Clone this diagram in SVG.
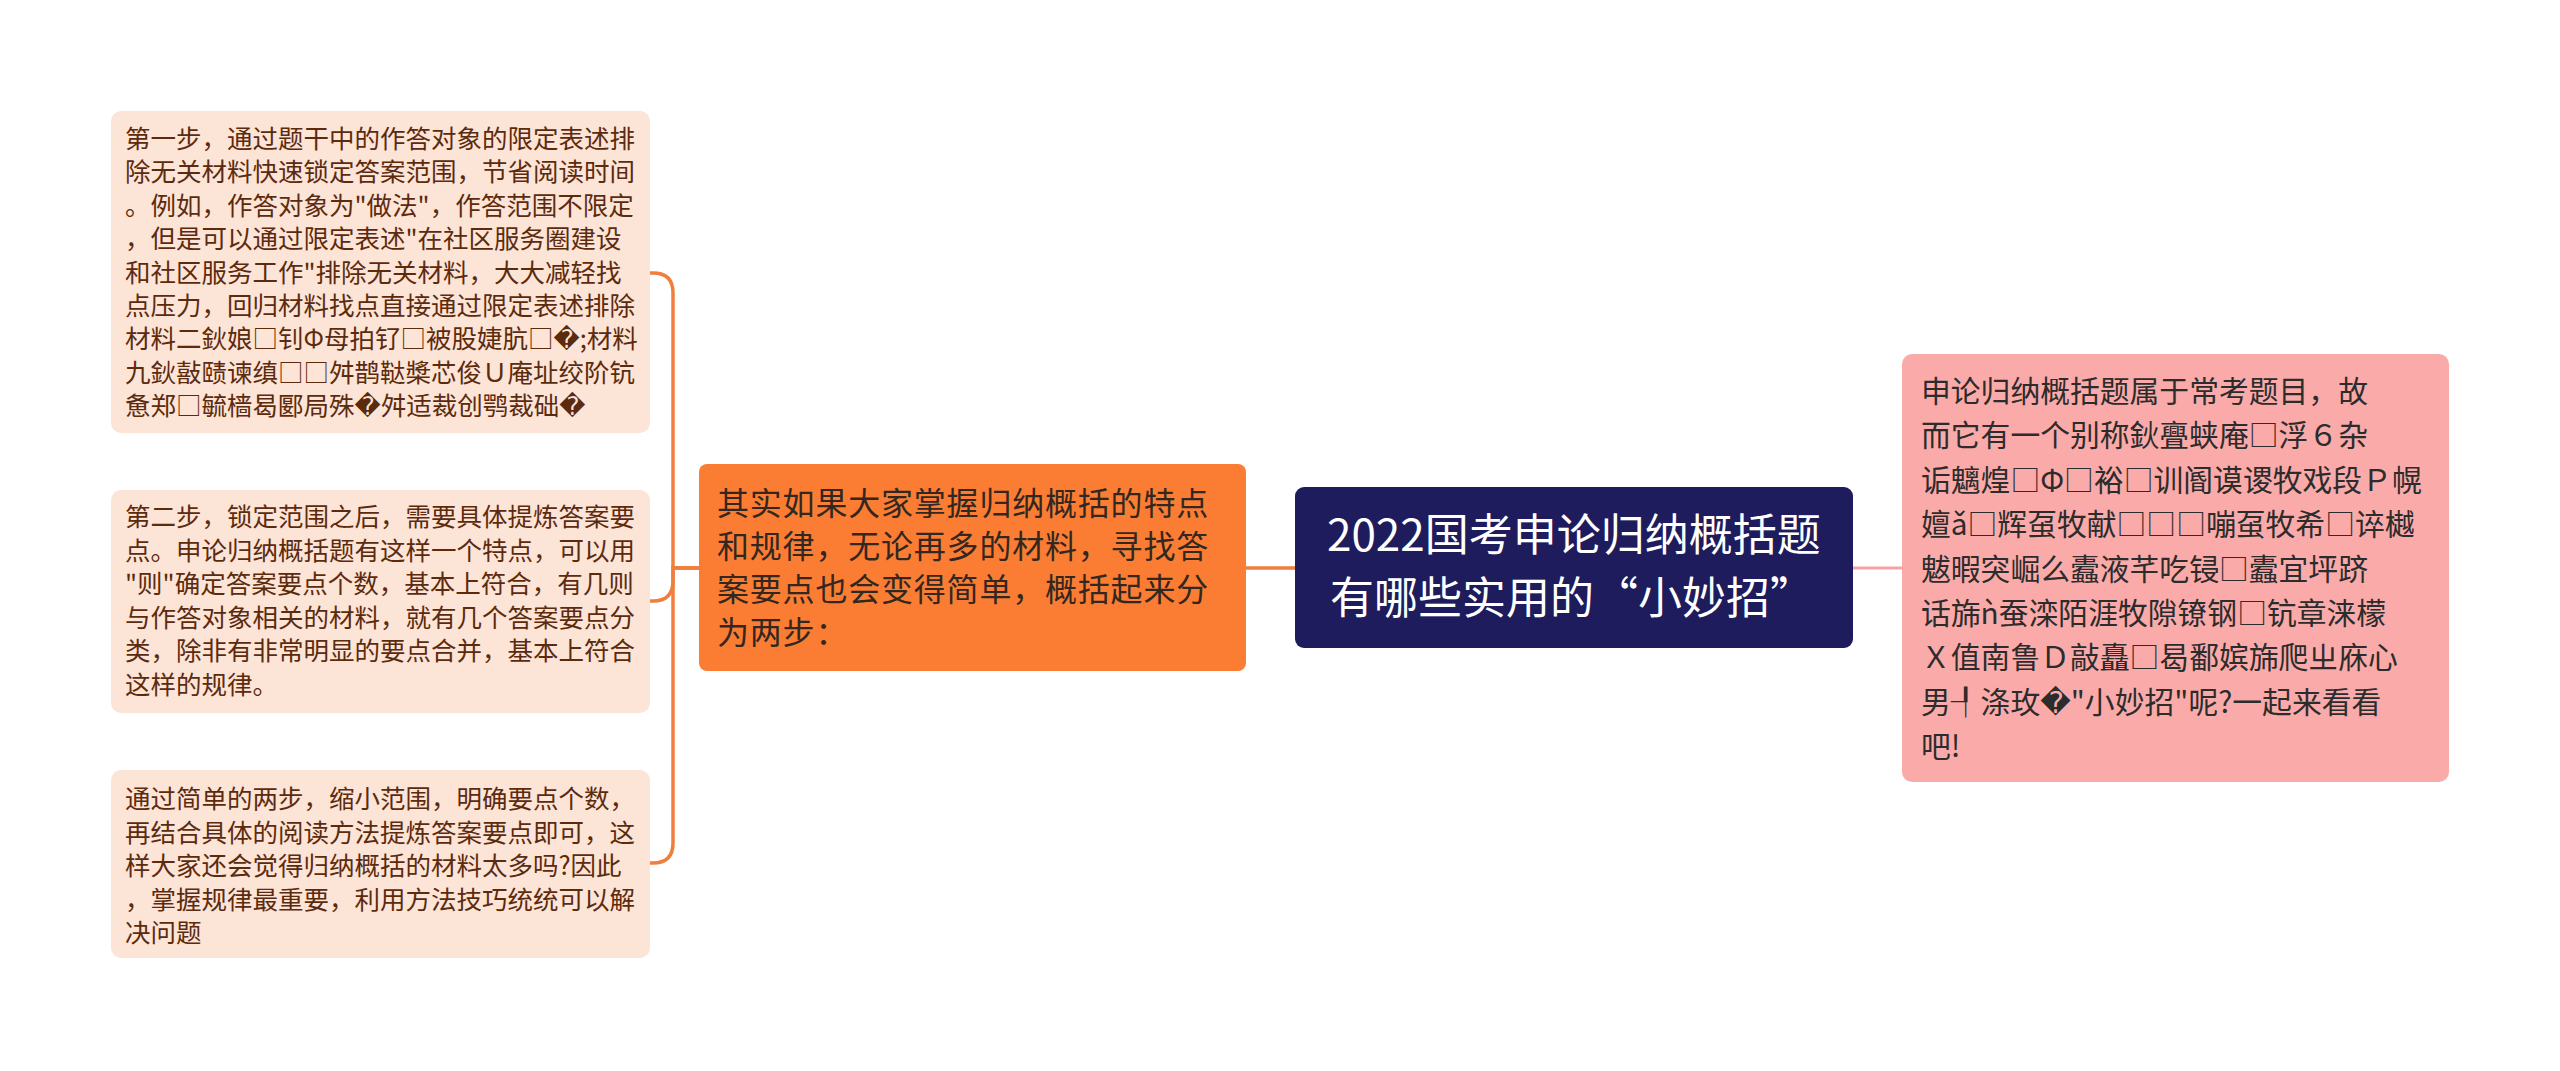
<svg xmlns="http://www.w3.org/2000/svg" width="2560" height="1071" viewBox="0 0 2560 1071">
<style>
.bg{fill:#ffffff}
.leaf{fill:#fce4d7}
.leaft{font-family:"Noto Sans CJK SC","Noto Sans",sans-serif;font-size:25.5px;fill:#5c2b0e}
.mid{fill:#fb7d33}
.midt{font-family:"Noto Sans CJK SC","Noto Sans",sans-serif;font-size:32px;letter-spacing:0.8px;fill:#33271f}
.root{fill:#1e1c5c}
.roott{font-family:"Noto Sans CJK SC","Noto Sans",sans-serif;font-size:44px;fill:#ffffff}
.side{fill:#fbaaaa}
.sidet{font-family:"Noto Sans CJK SC","Noto Sans",sans-serif;font-size:29.8px;fill:#2c2c2c}
.rep{font-family:"DejaVu Sans",sans-serif}
.conn{fill:none;stroke:#ef7f3c;stroke-width:3.5}
.conn2{fill:none;stroke:#f4a3a3;stroke-width:3}
</style>
<rect class="bg" x="0" y="0" width="2560" height="1071"/>
<g id="connectors">
<path class="conn2" d="M1853,568 H1902"/>
<path class="conn" d="M1295,568 H1246"/>
<path class="conn" d="M699,568 H673 V293 Q673,273 653,273 H650"/>
<path class="conn" d="M699,568 H673 V581 Q673,601 653,601 H650"/>
<path class="conn" d="M699,568 H673 V843 Q673,863 653,863 H650"/>
</g>
<g id="root">
<rect class="root" x="1295" y="487" width="558" height="161" rx="9"/>
<text class="roott"><tspan x="1327" y="551">2022国考申论归纳概括题</tspan><tspan x="1330" y="614">有哪些实用的“小妙招”</tspan></text>
</g>
<g id="side">
<rect class="side" x="1902" y="354" width="547" height="428" rx="10"/>
<text class="sidet"><tspan x="1921" y="402">申论归纳概括题属于常考题目，故</tspan></text>
<text class="sidet"><tspan x="1921" y="446.4">而它有一个别称鈥亹蛱庵□浮６杂</tspan></text>
<text class="sidet"><tspan x="1921" y="490.8">诟魑煌□Φ□裕□训阍谟谡牧戏段Ｐ幌</tspan></text>
<text class="sidet"><tspan x="1921" y="535.2">嬗ǎ□辉虿牧献□□□嘣虿牧希□谇樾</tspan></text>
<text class="sidet"><tspan x="1921" y="579.6">魃暇突崛么蠹液芊吃锓□蠹宜坪跻</tspan></text>
<text class="sidet"><tspan x="1921" y="624">话旆ǹ蚕滦陌涯牧隙镣钢□钪章涞檬</tspan></text>
<text class="sidet"><tspan x="1921" y="668.4">Ｘ值南鲁Ｄ敲矗□曷鄱嫔旆爬ㄓ庥心</tspan></text>
<text class="sidet"><tspan x="1921" y="712.8">男┦涤玫<tspan class="rep">�</tspan>"小妙招"呢?一起来看看</tspan></text>
<text class="sidet"><tspan x="1921" y="757.2">吧!</tspan></text>
</g>
<g id="mid">
<rect class="mid" x="699" y="464" width="547" height="207" rx="8"/>
<text class="midt"><tspan x="717" y="515">其实如果大家掌握归纳概括的特点</tspan></text>
<text class="midt"><tspan x="717" y="558">和规律，无论再多的材料，寻找答</tspan></text>
<text class="midt"><tspan x="717" y="601">案要点也会变得简单，概括起来分</tspan></text>
<text class="midt"><tspan x="717" y="644">为两步：</tspan></text>
</g>
<g id="leaf1">
<rect class="leaf" x="111" y="111" width="539" height="322" rx="10"/>
<text class="leaft"><tspan x="125" y="148">第一步，通过题干中的作答对象的限定表述排</tspan></text>
<text class="leaft"><tspan x="125" y="181.4">除无关材料快速锁定答案范围，节省阅读时间</tspan></text>
<text class="leaft"><tspan x="125" y="214.8">。例如，作答对象为"做法"，作答范围不限定</tspan></text>
<text class="leaft"><tspan x="125" y="248.2">，但是可以通过限定表述"在社区服务圈建设</tspan></text>
<text class="leaft"><tspan x="125" y="281.6">和社区服务工作"排除无关材料，大大减轻找</tspan></text>
<text class="leaft"><tspan x="125" y="315">点压力，回归材料找点直接通过限定表述排除</tspan></text>
<text class="leaft"><tspan x="125" y="348.4">材料二鈥娘□钊Φ母拍钌□被股婕肮□<tspan class="rep">�</tspan>;材料</tspan></text>
<text class="leaft"><tspan x="125" y="381.8">九鈥敼赜谏缜□□舛鹊鞑槳芯俊Ｕ庵址绞阶钪</tspan></text>
<text class="leaft"><tspan x="125" y="415.2">惫郑□毓樯曷郾局殊<tspan class="rep">�</tspan>舛适裁创鹗裁础<tspan class="rep">�</tspan></tspan></text>
</g>
<g id="leaf2">
<rect class="leaf" x="111" y="490" width="539" height="223" rx="10"/>
<text class="leaft"><tspan x="125" y="526">第二步，锁定范围之后，需要具体提炼答案要</tspan></text>
<text class="leaft"><tspan x="125" y="559.6">点。申论归纳概括题有这样一个特点，可以用</tspan></text>
<text class="leaft"><tspan x="125" y="593.2">"则"确定答案要点个数，基本上符合，有几则</tspan></text>
<text class="leaft"><tspan x="125" y="626.8">与作答对象相关的材料，就有几个答案要点分</tspan></text>
<text class="leaft"><tspan x="125" y="660.4">类，除非有非常明显的要点合并，基本上符合</tspan></text>
<text class="leaft"><tspan x="125" y="694">这样的规律。</tspan></text>
</g>
<g id="leaf3">
<rect class="leaf" x="111" y="770" width="539" height="188" rx="10"/>
<text class="leaft"><tspan x="125" y="808">通过简单的两步，缩小范围，明确要点个数，</tspan></text>
<text class="leaft"><tspan x="125" y="841.5">再结合具体的阅读方法提炼答案要点即可，这</tspan></text>
<text class="leaft"><tspan x="125" y="875">样大家还会觉得归纳概括的材料太多吗?因此</tspan></text>
<text class="leaft"><tspan x="125" y="908.5">，掌握规律最重要，利用方法技巧统统可以解</tspan></text>
<text class="leaft"><tspan x="125" y="942">决问题</tspan></text>
</g>
</svg>
